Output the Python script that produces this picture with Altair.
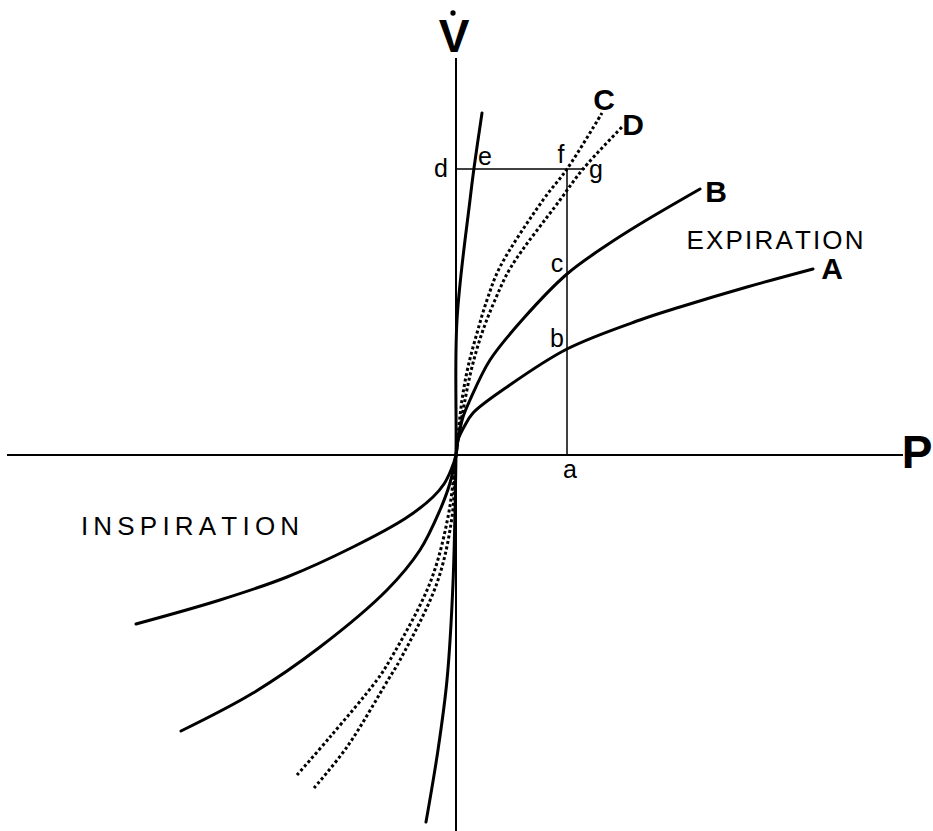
import altair as alt
import pandas as pd

# Pressure (P) versus flow (V-dot) curves; arbitrary units, origin at (0, 0).
curve_a_p = [-320, -236, -169, -103, -50, -23, -12, -5, 0, 2, 8, 17, 51, 111, 184, 224, 291, 357]
curve_a_v = [-169, -145, -122, -92, -63, -42, -29, -15, 0, 15, 28, 42, 68, 106, 135, 148, 168, 186]

curve_b_p = [-275, -203, -136, -69, -36, -16, -6, 0, 2, 7, 14, 34, 67, 111, 151, 184, 244]
curve_b_v = [-276, -238, -192, -135, -95, -55, -28, 0, 15, 38, 55, 95, 136, 181, 210, 231, 266]

curve_c_p = [-159, -126, -79, -66, -26, -8, 0, 6, 12, 21, 31, 44, 87, 111, 146]
curve_c_v = [-320, -282, -225, -205, -128, -62, 0, 55, 88, 122, 155, 188, 255, 286, 342]

curve_d_p = [-142, -109, -68, -56, -19, -4, 0, 9, 16, 26, 39, 55, 104, 127, 166]
curve_d_v = [-333, -292, -225, -205, -128, -62, 0, 55, 88, 122, 155, 188, 255, 286, 328]

steep_p = [-30, -18, -9, -3, 0, 1, 14, 18, 26]
steep_v = [-367, -295, -225, -128, 0, 135, 255, 287, 342]

# Construction lines: pressure a and flow d
point_a_p = 111
level_d_v = 286
level_d_end_p = 129

# Axis extents
p_axis = [-449, 447]
v_axis = [-376, 397]

# Plot domain
p_domain = [-456, 477]
v_domain = [-376, 455]

# Labels: text, P, V (baseline position)
axis_labels = pd.DataFrame({"text": ["P", "V"], "P": [461, -2], "V": [-13, 403]})
curve_labels = pd.DataFrame({"text": ["A", "B", "C", "D"],
                             "P": [376, 260, 148, 177], "V": [176, 253, 345, 320]})
region_labels = pd.DataFrame({"text": ["E\u200aX\u200aP\u200aI\u200aR\u200aA\u200aT\u200aI\u200aO\u200aN",
                                       "I\u2009N\u2009S\u2009P\u2009I\u2009R\u2009A\u2009T\u2009I\u2009O\u2009N"],
                              "P": [319, -266], "V": [206, -80]})
point_labels = pd.DataFrame({"text": ["a", "b", "c", "d", "e", "f", "g"],
                             "P": [114, 101, 101, -15, 29, 105, 140],
                             "V": [-23, 108, 183, 278, 290, 292, 277]})
flow_dot = pd.DataFrame({"P": [-3], "V": [442]})


def curve_frame(name, ps, vs):
    return pd.DataFrame({"curve": name, "P": ps, "V": vs, "seq": range(len(ps))})


solid = pd.concat([curve_frame("A", curve_a_p, curve_a_v),
                   curve_frame("B", curve_b_p, curve_b_v),
                   curve_frame("steep", steep_p, steep_v)])
dotted = pd.concat([curve_frame("C", curve_c_p, curve_c_v),
                    curve_frame("D", curve_d_p, curve_d_v)])

xs = alt.Scale(domain=p_domain, zero=False, nice=False)
ys = alt.Scale(domain=v_domain, zero=False, nice=False)
X = lambda f="P": alt.X(f"{f}:Q", scale=xs, axis=None)
Y = lambda f="V": alt.Y(f"{f}:Q", scale=ys, axis=None)

axes_h = alt.Chart(pd.DataFrame({"P": [p_axis[0]], "P2": [p_axis[1]], "V": [0]})).mark_rule(
    color="black", strokeWidth=2).encode(x=X(), x2="P2:Q", y=Y())
axes_v = alt.Chart(pd.DataFrame({"P": [0], "V": [v_axis[0]], "V2": [v_axis[1]]})).mark_rule(
    color="black", strokeWidth=2).encode(x=X(), y=Y(), y2="V2:Q")

guide_v = alt.Chart(pd.DataFrame({"P": [point_a_p], "V": [0], "V2": [level_d_v]})).mark_rule(
    color="black", strokeWidth=1.5).encode(x=X(), y=Y(), y2="V2:Q")
guide_h = alt.Chart(pd.DataFrame({"P": [0], "P2": [level_d_end_p], "V": [level_d_v]})).mark_rule(
    color="black", strokeWidth=1.5).encode(x=X(), x2="P2:Q", y=Y())

solid_lines = alt.Chart(solid).mark_line(
    color="black", strokeWidth=3, interpolate="catmull-rom", strokeCap="round").encode(
    x=X(), y=Y(), detail="curve:N", order="seq:Q")
dotted_lines = alt.Chart(dotted).mark_line(
    color="black", strokeWidth=3, interpolate="catmull-rom", strokeDash=[3, 2.5]).encode(
    x=X(), y=Y(), detail="curve:N", order="seq:Q")

font = "Liberation Sans"
t_axis = alt.Chart(axis_labels).mark_text(
    font=font, fontSize=46, fontWeight="bold", baseline="alphabetic", align="center", color="black").encode(
    x=X(), y=Y(), text="text:N")
t_curve = alt.Chart(curve_labels).mark_text(
    font=font, fontSize=30, fontWeight="bold", baseline="alphabetic", align="center", color="black").encode(
    x=X(), y=Y(), text="text:N")
t_region = alt.Chart(region_labels).mark_text(
    font=font, fontSize=26, baseline="alphabetic", align="center", color="black").encode(
    x=X(), y=Y(), text="text:N")
t_point = alt.Chart(point_labels).mark_text(
    font=font, fontSize=25, baseline="alphabetic", align="center", color="black").encode(
    x=X(), y=Y(), text="text:N")
dot = alt.Chart(flow_dot).mark_circle(color="black", opacity=1, size=28).encode(x=X(), y=Y())

chart = alt.layer(
    axes_h, axes_v, guide_v, guide_h, solid_lines, dotted_lines,
    t_axis, t_curve, t_region, t_point, dot
).properties(
    width=933, height=831, padding=0, background="white",
    autosize=alt.AutoSizeParams(type="none")
).configure_view(stroke=None)

chart.save("out.html", embed_options={"renderer": "svg", "actions": False})
